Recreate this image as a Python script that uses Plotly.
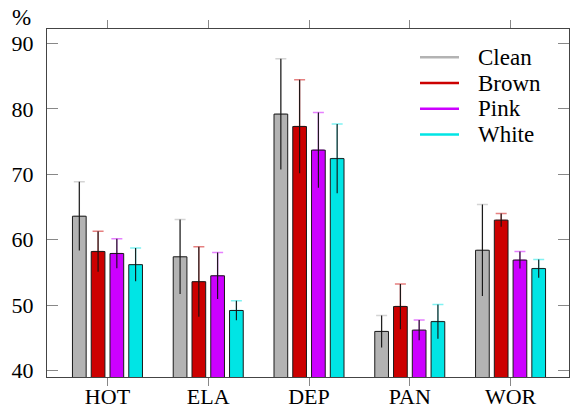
import plotly.graph_objects as go

categories = ["HOT", "ELA", "DEP", "PAN", "WOR"]
series_names = ["Clean", "Brown", "Pink", "White"]
clean_vals = [63.6, 57.4, 79.2, 46.0, 58.4]
clean_err = [5.25, 5.7, 8.45, 2.45, 7.0]
brown_vals = [58.2, 53.6, 77.3, 49.8, 63.0]
brown_err = [3.1, 5.35, 7.15, 3.45, 1.0]
pink_vals = [57.9, 54.5, 73.7, 46.2, 56.9]
pink_err = [2.25, 3.55, 5.75, 1.55, 1.3]
white_vals = [56.2, 49.2, 72.4, 47.5, 55.6]
white_err = [2.55, 1.5, 5.3, 2.6, 1.4]
y_ticks = [40, 50, 60, 70, 80, 90]

values = [clean_vals, brown_vals, pink_vals, white_vals]
errors = [clean_err, brown_err, pink_err, white_err]
colors = ["#b3b3b3", "#cc0000", "#cc00ff", "#00e5e5"]
cap_colors = ["#d4d4d4", "#e68080", "#e680ff", "#80f2f2"]

FONT = "Liberation Serif, Times New Roman, serif"

W, H = 572, 411
ML, MR, MT, MB = 47, 3, 29, 34

fig = go.Figure()
for i, name in enumerate(series_names):
    # coloured caps (transparent bar, upward error only)
    fig.add_trace(go.Bar(
        x=categories, y=values[i], offsetgroup=str(i), showlegend=False,
        marker=dict(color="rgba(0,0,0,0)", line=dict(width=0)),
        error_y=dict(type="data", symmetric=False, array=errors[i],
                     arrayminus=[0] * len(errors[i]),
                     color=cap_colors[i], thickness=1.5, width=5.5),
        hoverinfo="skip",
    ))
    fig.add_trace(go.Bar(
        x=categories, y=values[i], offsetgroup=str(i), name=name, showlegend=False,
        marker=dict(color=colors[i], line=dict(color="#1a1a1a", width=1)),
        error_y=dict(type="data", array=errors[i], color="#111111",
                     thickness=1.1, width=0),
    ))

fig.update_layout(
    width=W, height=H,
    margin=dict(l=ML, r=MR, t=MT, b=MB),
    barmode="group", bargap=0.255, bargroupgap=0.27,
    plot_bgcolor="white", paper_bgcolor="white",
    font=dict(family=FONT, size=22, color="black"),
    showlegend=False,
    xaxis=dict(
        type="category", range=[-0.6, 4.58], automargin=False,
        showline=True, linecolor="#444444", linewidth=1, mirror="ticks",
        ticks="outside", ticklen=8, tickcolor="#888888", tickwidth=1,
        showgrid=False, zeroline=False, ticklabelstandoff=-8,
        tickfont=dict(family=FONT, size=22),
    ),
    yaxis=dict(
        range=[39.04, 92.2], tickvals=y_ticks, automargin=False,
        showline=True, linecolor="#444444", linewidth=1, mirror="ticks",
        ticks="inside", ticklen=11, tickcolor="#888888", tickwidth=1,
        showgrid=False, zeroline=False, ticklabelstandoff=8,
        tickfont=dict(family=FONT, size=22),
    ),
)

# manual legend (line samples + labels), placed in paper coordinates
pw = W - ML - MR
ph = H - MT - MB
def px_x(px):
    return (px - ML) / pw
def px_y(py):
    return (H - MB - py) / ph

leg_x0, leg_x1, leg_tx, leg_y0, leg_dy = 420, 459, 476, 57.3, 25.7
for i, name in enumerate(series_names):
    yy = px_y(leg_y0 + i * leg_dy)
    fig.add_shape(type="line", xref="paper", yref="paper",
                  x0=px_x(leg_x0), x1=px_x(leg_x1), y0=yy, y1=yy,
                  line=dict(color=colors[i], width=2.5))
    fig.add_annotation(text=name, xref="paper", yref="paper",
                       x=px_x(leg_tx), y=yy, xanchor="left", yanchor="middle",
                       showarrow=False, font=dict(family=FONT, size=23))

fig.add_annotation(text="%", xref="paper", yref="paper",
                   x=px_x(10), y=px_y(17.5), xanchor="left", yanchor="middle",
                   showarrow=False, font=dict(family=FONT, size=23))

fig.write_html("out.html", config={"displayModeBar": False},
               post_script="document.body.style.margin='0';")
